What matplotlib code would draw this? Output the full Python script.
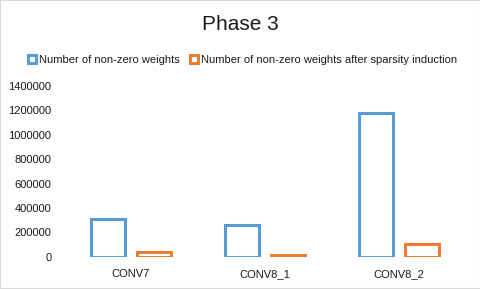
import matplotlib
matplotlib.use("Agg")
import matplotlib.pyplot as plt
import numpy as np
from matplotlib.patches import Rectangle

categories = ["CONV7", "CONV8_1", "CONV8_2"]
nonzero = [310000, 262000, 1180000]
nonzero_sparse = [35000, 18000, 105000]
series_names = ["Number of non-zero weights",
                "Number of non-zero weights after sparsity induction"]
yticks = [0, 200000, 400000, 600000, 800000, 1000000, 1200000, 1400000]

blue = "#5B9BD5"
orange = "#ED7D31"
txt = "#1A1A1A"

plt.rcParams['font.family'] = ['Liberation Sans', 'DejaVu Sans']

fig = plt.figure(figsize=(4.81, 2.89), dpi=100)
ax = fig.add_axes([64 / 481, (289 - 256.7) / 289, 402 / 481, 170.7 / 289])

x = np.arange(len(categories))
w = 0.25
ax.bar(x - 0.172, nonzero, w, facecolor="white", edgecolor=blue, linewidth=2.2, label=series_names[0])
ax.bar(x + 0.172, nonzero_sparse, w, facecolor="white", edgecolor=orange, linewidth=2.2, label=series_names[1])

ax.set_xlim(-0.5, 2.5)
ax.set_ylim(0, 1400000)
ax.set_yticks(yticks)
ax.set_yticklabels([str(v) for v in yticks], fontsize=8, color=txt)
ax.set_xticks(x)
ax.set_xticklabels(categories, fontsize=8, color=txt)
ax.tick_params(axis="x", length=0, pad=9)
ax.tick_params(axis="y", length=0, pad=9)
for s in ax.spines.values():
    s.set_visible(False)

fig.text(0.5, 1 - 25 / 289, "Phase 3", ha="center", va="center", fontsize=15, color=txt)
leg = fig.legend(loc="center", bbox_to_anchor=(0.505, 1 - 60 / 289), ncol=2, frameon=False,
                 fontsize=8, handlelength=0.7, handleheight=0.7, handletextpad=0.3,
                 columnspacing=0.9, labelcolor=txt)

fig.patches.append(Rectangle((0, 0), 1, 1, transform=fig.transFigure, fill=False,
                             edgecolor="#D9D9D9", linewidth=1.5))

fig.savefig("out.png", dpi=100)
